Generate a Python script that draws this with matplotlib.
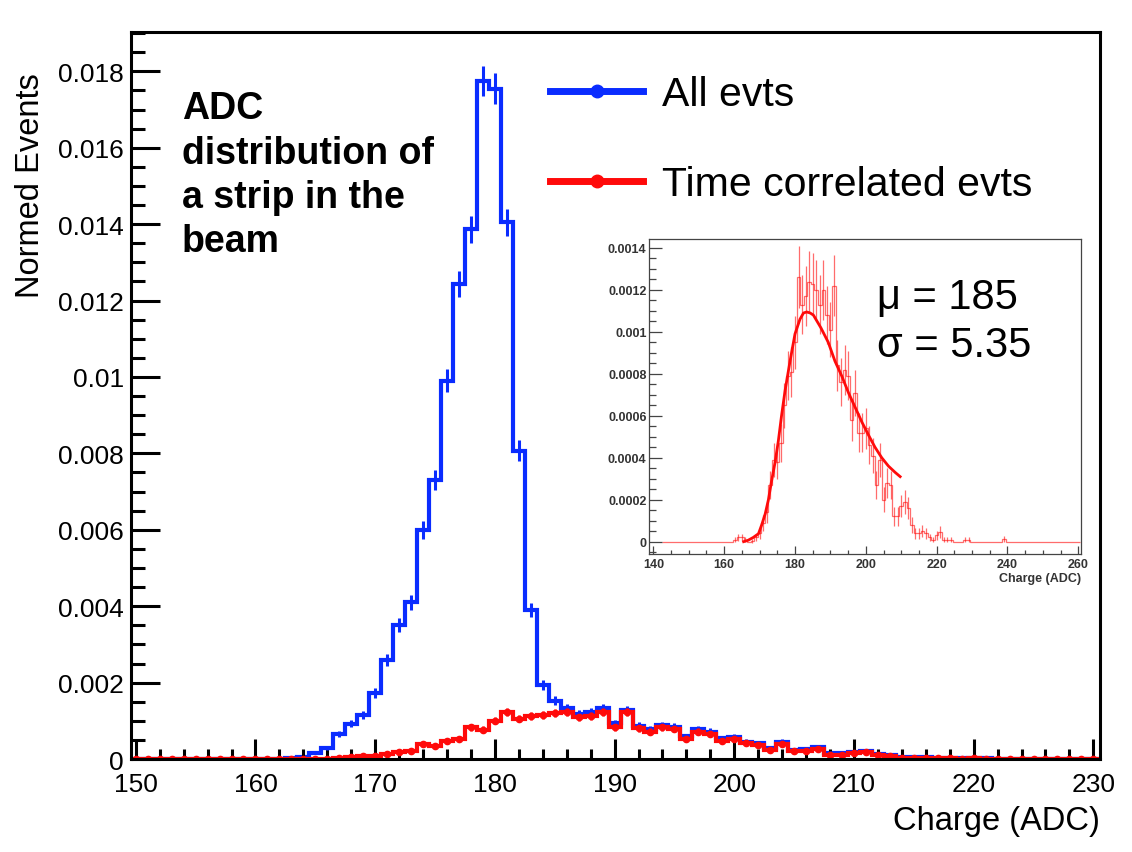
import numpy as np
import matplotlib as mpl
mpl.use('Agg')
import matplotlib.pyplot as plt
from matplotlib.lines import Line2D
from matplotlib.ticker import MultipleLocator, FuncFormatter

plt.rcParams['font.family'] = ['Liberation Sans', 'DejaVu Sans']

# ========== Data ==========

# main histogram: 1 ADC bins centred on integer charge, 150..230
charge_bins = np.arange(150, 231)

all_evts = [
    0, 0, 0, 0, 0, 0, 0, 0, 0, 0,                                    # 150-159
    0, 0, 0, 0.00003, 0.00006, 0.00017, 0.00028, 0.00065, 0.00092, 0.00115,  # 160-169
    0.00173, 0.0026, 0.0035, 0.0041, 0.0060, 0.0073, 0.0099, 0.01243, 0.01387, 0.01775,  # 170-179
    0.01755, 0.01405, 0.00807, 0.0039, 0.00194, 0.00153, 0.00133, 0.00118, 0.00122, 0.00133,  # 180-189
    0.00094, 0.00128, 0.00087, 0.00078, 0.00089, 0.00085, 0.00059, 0.00078, 0.00072, 0.00054,  # 190-199
    0.00057, 0.00045, 0.00042, 0.00029, 0.00045, 0.00024, 0.00026, 0.00031, 0.00016, 0.00016,  # 200-209
    0.00018, 0.0002, 0.00013, 0.00011, 0.00005, 0.00004, 0.00004, 0.00003, 0.00003, 0.00002,  # 210-219
    0.00003, 0.00002, 0.00001, 0.00001, 0.00001, 0.00001, 0.00001, 0.00001, 0.00001, 0.00001,  # 220-229
    0.00001,                                                         # 230
]

time_corr_evts = [
    0, 0, 0, 0, 0, 0, 0, 0, 0, 0,                                    # 150-159
    0, 0, 0, 0, 0, 0, 0.00001, 0.00002, 0.00004, 0.00007,            # 160-169
    0.00009, 0.00013, 0.00019, 0.00022, 0.00039, 0.00035, 0.00046, 0.00052, 0.00083, 0.00077,  # 170-179
    0.00100, 0.00124, 0.00106, 0.00113, 0.00115, 0.00120, 0.00124, 0.00109, 0.00113, 0.00122,  # 180-189
    0.00083, 0.00122, 0.00080, 0.00072, 0.00083, 0.00078, 0.00052, 0.00072, 0.00065, 0.00048,  # 190-199
    0.00052, 0.00042, 0.00038, 0.00024, 0.00039, 0.00020, 0.00022, 0.00026, 0.00011, 0.00011,  # 200-209
    0.00016, 0.00018, 0.00011, 0.00009, 0.00003, 0.00003, 0.00002, 0.00002, 0.00002, 0.00001,  # 210-219
    0.00002, 0.00001, 0.000005, 0.000005, 0.000005, 0.000005, 0.000005, 0.000005, 0.000005, 0.000005,  # 220-229
    0.000005,                                                        # 230
]

# inset: time correlated events alone, 143..260
inset_bins = np.arange(143, 261)
inset_evts = (
    [0] * 20                                                          # 143-162
    + [0.00001, 0.00002, 0.00002, 0.00001, 0.0, 0.000005, 0.00002,    # 163-169
       0.00004, 0.00009, 0.00014, 0.00027, 0.00039, 0.00038, 0.00047, 0.00065, 0.00079, 0.00081,  # 170-179
       0.00095, 0.00126, 0.00113, 0.00117, 0.00124, 0.00123, 0.0012, 0.00113, 0.0012, 0.00108,  # 180-189
       0.00101, 0.00122, 0.00084, 0.00076, 0.00082, 0.00079, 0.00058, 0.00071, 0.00052, 0.00052,  # 190-199
       0.00054, 0.00046, 0.00041, 0.00027, 0.00039, 0.0002, 0.00028, 0.00027, 0.00012, 0.00012,  # 200-209
       0.00017, 0.00019, 0.00016, 0.00008, 0.00004, 0.00004, 0.00005, 0.00004, 0.00002, 0.00001,  # 210-219
       0.00003, 0.000045, 0.00001, 0.00001, 0.00001, 0, 0, 0, 0.00001, 0.00001,  # 220-229
       0, 0, 0, 0, 0, 0, 0, 0, 0, 0.000013]                            # 230-239
    + [0] * 21                                                        # 240-260
)

# fitted curve (mu = 185, sigma = 5.35)
fit_x = [165.5, 166.8, 168.2, 169.7, 170.6, 171.6, 172.5, 173.4, 174.4, 175.3,
         176.2, 177.2, 178.6, 180.0, 181.4, 182.4, 183.3, 184.3, 185.2, 187.3,
         189.4, 191.3, 193.2, 195.1, 197.0, 198.9, 200.7, 202.6, 204.5, 206.4,
         208.3, 209.7]
fit_y = [0.0, 0.000007, 0.00002, 0.000038, 0.00008, 0.000133, 0.0002, 0.00029, 0.00038, 0.00048,
         0.0006, 0.00072, 0.00086, 0.00099, 0.00106, 0.00109, 0.001095, 0.00109, 0.00108, 0.00102,
         0.00095, 0.00086, 0.00079, 0.00071, 0.00064, 0.00057, 0.00051, 0.00045, 0.0004, 0.00036,
         0.00033, 0.00031]

# event counts used for the sqrt(N) error bars of the normed histograms
N_ALL = 110000
N_INSET = 58000

BLUE = '#0a2cff'
RED = '#ff0a0a'

# ========== Main plot ==========

fig = plt.figure(figsize=(11.32, 8.53), dpi=100)
ax = fig.add_axes([0.1157, 0.1090, 0.856, 0.8523])

all_evts = np.array(all_evts)
time_corr_evts = np.array(time_corr_evts)
edges = np.append(charge_bins - 0.5, charge_bins[-1] + 0.5)

ax.stairs(all_evts, edges, color=BLUE, lw=3)
ax.errorbar(charge_bins, all_evts, yerr=np.sqrt(all_evts / N_ALL),
            fmt='none', ecolor=BLUE, elinewidth=2.2)
ax.stairs(time_corr_evts, edges, color=RED, lw=3)
ax.errorbar(charge_bins, time_corr_evts, yerr=np.sqrt(time_corr_evts / N_ALL),
            fmt='o', ms=4.5, color=RED, ecolor=RED, elinewidth=2)

ax.set_xlim(149.6, 230.55)
ax.set_ylim(0, 0.01903)

ax.xaxis.set_major_locator(MultipleLocator(10))
ax.xaxis.set_minor_locator(MultipleLocator(2))
ax.yaxis.set_major_locator(MultipleLocator(0.002))
ax.yaxis.set_minor_locator(MultipleLocator(0.0005))
ax.yaxis.set_major_formatter(FuncFormatter(lambda v, p: '%g' % round(v, 6)))

for s in ax.spines.values():
    s.set_linewidth(2.2)
ax.tick_params(which='both', direction='in', width=2.2, top=False, right=False,
               labelsize=19)
ax.tick_params(axis='x', which='major', length=14.5, pad=9)
ax.tick_params(axis='x', which='minor', length=7.2)
ax.tick_params(axis='y', which='major', length=21, pad=5)
ax.tick_params(axis='y', which='minor', length=10)

ax.set_xlabel('Charge (ADC)', fontsize=23.5, loc='right')
ax.xaxis.set_label_coords(1.0, -0.063)
ax.set_ylabel('Normed Events', fontsize=23.5, loc='top')
ax.yaxis.set_label_coords(-0.088, 0.945)

ax.text(0.0526, 0.920, 'ADC\ndistribution of\na strip in the\nbeam',
        transform=ax.transAxes, fontsize=27, fontweight='bold',
        va='top', ha='left', linespacing=1.3)

handles = [Line2D([], [], color=BLUE, lw=5, marker='o', ms=9),
           Line2D([], [], color=RED, lw=5, marker='o', ms=9)]
ax.legend(handles, ['All evts', 'Time correlated evts'], loc='upper left',
          bbox_to_anchor=(550.0 / 1132, 1 - 76.0 / 853), bbox_transform=fig.transFigure,
          frameon=False, fontsize=29.5, handlelength=2.27, handletextpad=0.46,
          labelspacing=1.27, borderpad=0, borderaxespad=0)

# ========== Inset ==========

axin = fig.add_axes([0.5736, 0.3494, 0.3811, 0.3693])
inset_evts = np.array(inset_evts)
in_edges = np.append(inset_bins - 0.5, inset_bins[-1] + 0.5)
axin.stairs(inset_evts, in_edges, color=RED, alpha=0.6, lw=0.9)
axin.errorbar(inset_bins, inset_evts, yerr=np.sqrt(inset_evts / N_INSET),
              fmt='none', ecolor=RED, alpha=0.6, elinewidth=0.9)
axin.plot(fit_x, fit_y, color=RED, lw=2)

axin.set_xlim(138.87, 260.68)
axin.set_ylim(-0.0000586, 0.001443)
axin.xaxis.set_major_locator(MultipleLocator(20))
axin.xaxis.set_minor_locator(MultipleLocator(5))
axin.yaxis.set_major_locator(MultipleLocator(0.0002))
axin.yaxis.set_minor_locator(MultipleLocator(0.00005))
axin.yaxis.set_major_formatter(FuncFormatter(lambda v, p: '%g' % round(v, 6)))

for s in axin.spines.values():
    s.set_linewidth(0.9)
    s.set_color('#444444')
axin.tick_params(which='both', direction='in', width=0.9, color='#444444',
                 top=False, right=False, labelsize=9, labelcolor='#333333')
axin.tick_params(axis='x', which='major', length=6, pad=3)
axin.tick_params(axis='x', which='minor', length=3)
axin.tick_params(axis='y', which='major', length=9.4, pad=2)
axin.tick_params(axis='y', which='minor', length=5)
for lab in axin.get_xticklabels() + axin.get_yticklabels():
    lab.set_fontweight('bold')

axin.set_xlabel('Charge (ADC)', fontsize=9, fontweight='bold', color='#333333',
                loc='right', labelpad=1)

axin.text(0.527, 0.88, 'μ = 185\nσ = 5.35', transform=axin.transAxes,
          fontsize=30, va='top', ha='left', linespacing=1.25)

fig.savefig('out.png', dpi=100)
